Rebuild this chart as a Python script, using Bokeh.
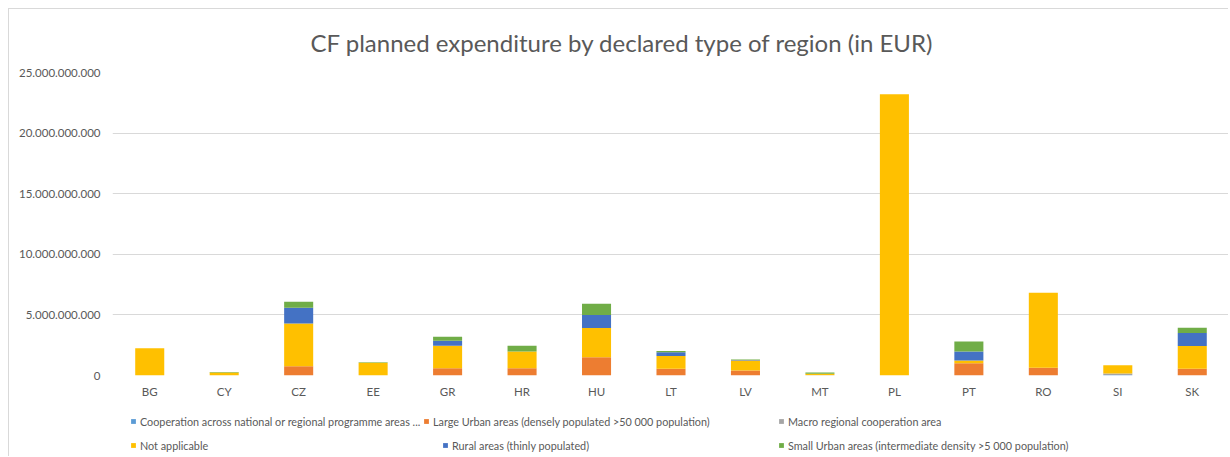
from bokeh.plotting import figure
from bokeh.layouts import column
from bokeh.models import ColumnDataSource, FixedTicker, Range1d, Legend, LegendItem
from bokeh.embed import file_html
from bokeh.resources import INLINE

countries = ["BG", "CY", "CZ", "EE", "GR", "HR", "HU", "LT", "LV", "MT", "PL", "PT", "RO", "SI", "SK"]

cooperation = [0, 0, 0, 0, 0, 0, 0, 0, 0, 0, 0, 0, 0, 0.05e9, 0]
large_urban = [0, 0, 0.76e9, 0, 0.60e9, 0.60e9, 1.50e9, 0.55e9, 0.41e9, 0, 0, 1.01e9, 0.63e9, 0, 0.55e9]
macro_regional = [0, 0, 0, 0, 0, 0, 0, 0, 0, 0.02e9, 0, 0, 0, 0.12e9, 0]
not_applicable = [2.24e9, 0.25e9, 3.53e9, 1.05e9, 1.86e9, 1.37e9, 2.41e9, 1.06e9, 0.82e9, 0.12e9, 23.2e9, 0.22e9, 6.20e9, 0.68e9, 1.88e9]
rural = [0, 0, 1.31e9, 0, 0.41e9, 0, 1.09e9, 0.30e9, 0.04e9, 0, 0, 0.74e9, 0, 0, 1.07e9]
small_urban = [0, 0.03e9, 0.49e9, 0.04e9, 0.33e9, 0.49e9, 0.93e9, 0.11e9, 0.04e9, 0.10e9, 0, 0.84e9, 0, 0, 0.43e9]

series_keys = ["cooperation", "large_urban", "macro_regional", "not_applicable", "rural", "small_urban"]
series_labels = [
    "Cooperation across national or regional programme areas ...",
    "Large Urban areas (densely populated >50 000 population)",
    "Macro regional cooperation area",
    "Not applicable",
    "Rural areas (thinly populated)",
    "Small Urban areas (intermediate density >5 000 population)",
]
series_colors = ["#5B9BD5", "#ED7D31", "#A5A5A5", "#FFC000", "#4472C4", "#70AD47"]

y_ticks = [0, 5e9, 10e9, 15e9, 20e9, 25e9]
y_tick_labels = ["0", "5.000.000.000", "10.000.000.000", "15.000.000.000", "20.000.000.000", "25.000.000.000"]

title_text = "CF planned expenditure by declared type of region (in EUR)"

source = ColumnDataSource(dict(
    country=countries,
    cooperation=cooperation,
    large_urban=large_urban,
    macro_regional=macro_regional,
    not_applicable=not_applicable,
    rural=rural,
    small_urban=small_urban,
))

FONT = "Lato"
GREY = "#595959"
BORDER = "1px solid #d9d9d9"
W = 1220

p = figure(
    x_range=countries,
    y_range=Range1d(0, 25e9),
    width=W, height=396,
    output_backend="svg", toolbar_location=None,
    min_border_left=103, min_border_right=0, min_border_top=63, min_border_bottom=30,
    title=title_text,
)
p.styles = {"border-top": BORDER, "border-left": BORDER, "margin-left": "8px", "margin-top": "8px"}

p.title.text_font = FONT
p.title.text_font_size = "24px"
p.title.text_font_style = "normal"
p.title.text_color = GREY
p.title.align = "left"
p.title.offset = 198
p.title.standoff = 32

renderers = p.vbar_stack(series_keys, x="country", width=0.39, source=source,
                         color=series_colors, line_color=None)

p.outline_line_color = None
p.background_fill_color = "white"
p.border_fill_color = "white"

p.xgrid.grid_line_color = None
p.ygrid.grid_line_color = "#d9d9d9"
p.ygrid.grid_line_width = 1

p.yaxis.ticker = FixedTicker(ticks=y_ticks)
p.yaxis.major_label_overrides = {t: l for t, l in zip(y_ticks, y_tick_labels)}
p.yaxis.axis_line_color = None
p.yaxis.major_tick_line_color = None
p.yaxis.major_tick_out = 0
p.yaxis.major_tick_in = 0
p.yaxis.minor_tick_line_color = None
p.yaxis.major_label_standoff = 12
p.yaxis.major_label_text_font = FONT
p.yaxis.major_label_text_font_size = "11.5px"
p.yaxis.major_label_text_color = GREY

p.xaxis.axis_line_color = None
p.xaxis.major_tick_line_color = None
p.xaxis.major_tick_out = 0
p.xaxis.major_tick_in = 0
p.xaxis.minor_tick_line_color = None
p.xaxis.major_label_standoff = 9
p.xaxis.major_label_text_font = FONT
p.xaxis.major_label_text_font_size = "11.5px"
p.xaxis.major_label_text_color = GREY

# legend strip below the chart (its frame is aligned with the chart's frame)
lf = figure(width=W, height=52, output_backend="svg", toolbar_location=None,
            x_axis_location=None, y_axis_location=None,
            x_range=Range1d(0, 1), y_range=Range1d(0, 1),
            min_border_left=0, min_border_right=0, min_border_top=0, min_border_bottom=0)
lf.styles = {"border-left": BORDER, "margin-left": "8px"}
lf.grid.visible = False
lf.outline_line_color = None
lf.background_fill_color = "white"
lf.border_fill_color = "white"

# zero-size proxy bars, only used to give each legend entry its colour swatch
proxy_src = ColumnDataSource(dict(x=[0], top=[0]))
legend_pos = [(18, 28), (311, 28), (666, 28), (18, 4), (330, 4), (666, 4)]
for color, lab, (lx, ly) in zip(series_colors, series_labels, legend_pos):
    proxy = lf.vbar(x="x", top="top", width=0, source=proxy_src, color=color, line_color=None)
    lg = Legend(items=[LegendItem(label=lab, renderers=[proxy])], location=(lx, ly))
    lg.padding = 0
    lg.margin = 0
    lg.border_line_color = None
    lg.background_fill_alpha = 0
    lg.glyph_width = 6
    lg.glyph_height = 6
    lg.label_standoff = 4
    lg.label_height = 14
    lg.label_text_font = FONT
    lg.label_text_font_size = "10.8px"
    lg.label_text_color = GREY
    lf.add_layout(lg, "center")

layout = column(p, lf, spacing=0)
open("out.html", "w").write(file_html(layout, INLINE))
